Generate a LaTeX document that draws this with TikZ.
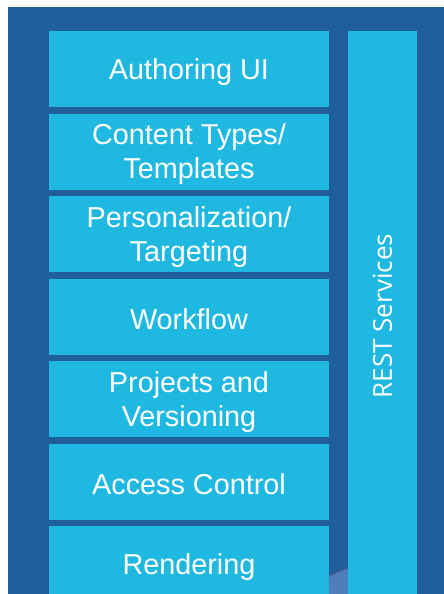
\documentclass[tikz,border=0pt]{standalone}
\usepackage{fontspec}
\setmainfont{Liberation Sans}
\newfontfamily\restfont{Open Sans}
\definecolor{bgblue}{HTML}{1F609C}
\definecolor{boxcyan}{HTML}{1FB8E1}
\definecolor{circblue}{HTML}{4F7EBB}
\definecolor{rimblue}{HTML}{3E5C93}
\tikzset{
  block/.style={fill=boxcyan, draw=none, minimum width=280pt, minimum height=76pt,
    inner sep=0pt},
  txt/.style={text=white, align=center, inner sep=0pt, yshift=-3pt,
    font=\fontsize{28.8}{34}\selectfont},
}
\begin{document}
\begin{tikzpicture}[x=1pt,y=-1pt]
\useasboundingbox (0,0) rectangle (444,594);
\clip (0,0) rectangle (444,594);
\fill[bgblue] (8,7) rectangle (444,594);
% partial circle at the bottom
\begin{scope}
  \clip (329,540) rectangle (348,594);
  \fill[circblue] (390,690) circle (129.3);
  \draw[rimblue, line width=1.5pt] (390,690) circle (129.3);
\end{scope}
\node[block, label={[txt]center:{Authoring UI}}] (authoring) at (189,69) {};
\node[block, label={[txt]center:{Content Types/\\Templates}}] (types) at (189,151.5) {};
\node[block, label={[txt]center:{Personalization/\\Targeting}}] (personal) at (189,234) {};
\node[block, label={[txt]center:{Workflow}}] (workflow) at (189,316.5) {};
\node[block, label={[txt]center:{Projects and\\Versioning}}] (projects) at (189,399) {};
\node[block, label={[txt]center:{Access Control}}] (access) at (189,481.5) {};
\node[block, label={[txt]center:{Rendering}}] (rendering) at (189,564) {};
\fill[boxcyan] (348,31) rectangle (417,600);
\coordinate (restc) at (382.5,316);
\node[text=white, rotate=90, font=\restfont\fontsize{26}{30}\selectfont, inner sep=0pt] (rest) at (restc) {REST Services};
\end{tikzpicture}
\end{document}
